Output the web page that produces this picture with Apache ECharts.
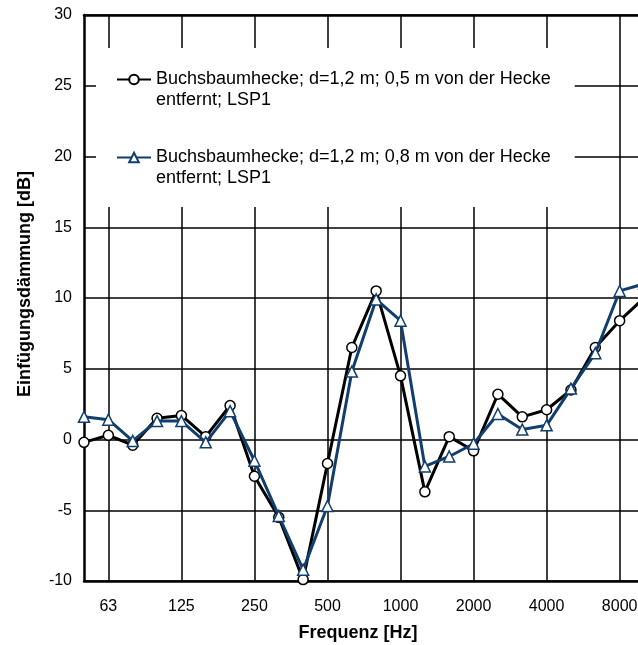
<!DOCTYPE html>
<html>
<head>
<meta charset="utf-8">
<script src="https://cdn.jsdelivr.net/npm/echarts@6/dist/echarts.min.js"></script>
<style>
html,body{margin:0;padding:0;background:#fff;}
#chart{width:638px;height:645px;}
</style>
</head>
<body>
<div id="chart"></div>
<script>
// Third-octave band centre frequencies [Hz]
const frequencies = ['50','63','80','100','125','160','200','250','315','400','500','630','800','1000','1250','1600','2000','2500','3150','4000','5000','6300','8000','10000'];
// Octave labels shown on the x axis
const tickLabels = ['63','125','250','500','1000','2000','4000','8000'];
// Insertion loss [dB]
const series05m = [-0.2, 0.3, -0.4, 1.5, 1.7, 0.2, 2.4, -2.6, -5.5, -9.9, -1.7, 6.5, 10.5, 4.5, -3.7, 0.2, -0.8, 3.2, 1.6, 2.1, 3.5, 6.5, 8.4, 10.0];
const series08m = [1.6, 1.4, -0.1, 1.3, 1.3, -0.2, 2.0, -1.5, -5.4, -9.2, -4.7, 4.8, 9.9, 8.4, -1.9, -1.2, -0.3, 1.8, 0.7, 1.0, 3.6, 6.1, 10.5, 11.0];
const name05m = 'Buchsbaumhecke; d=1,2 m; 0,5 m von der Hecke\nentfernt; LSP1';
const name08m = 'Buchsbaumhecke; d=1,2 m; 0,8 m von der Hecke\nentfernt; LSP1';
const yTicks = {min: -10, max: 30, interval: 5};

const FONT = '"Liberation Sans", Arial, sans-serif';
const BLUE = '#123e6e';
const showIdx = (i) => tickLabels.indexOf(frequencies[i]) >= 0;

const chart = echarts.init(document.getElementById('chart'), null, {renderer: 'canvas'});
chart.setOption({
  animation: false,
  backgroundColor: '#fff',
  textStyle: {fontFamily: FONT},
  grid: {left: 84, top: 15, width: 560, bottom: 64, containLabel: false, outerBoundsMode: 'none'},
  legend: {
    orient: 'vertical',
    left: 96, top: 48,
    padding: [0, 24, 18, 20],
    backgroundColor: '#fff',
    itemWidth: 34, itemHeight: 12,
    itemGap: 15,
    formatter: (n) => '\n' + n,
    textStyle: {fontFamily: FONT, fontSize: 18, color: '#000', lineHeight: 21},
    data: [name05m, name08m]
  },
  xAxis: [{
    type: 'category',
    data: frequencies,
    boundaryGap: false,
    axisLine: {onZero: false, lineStyle: {color: '#000', width: 2.5}},
    axisTick: {show: false},
    axisLabel: {interval: (i) => showIdx(i), fontSize: 16, color: '#000', margin: 18, fontFamily: FONT},
    splitLine: {show: true, interval: (i) => showIdx(i), lineStyle: {color: '#000', width: 1.5}},
    name: 'Frequenz [Hz]',
    nameLocation: 'middle',
    nameGap: 43,
    nameTextStyle: {fontSize: 18, fontWeight: 'bold', color: '#000', fontFamily: FONT, padding: [0, 12, 0, 0]}
  }, {
    type: 'category',
    data: frequencies,
    position: 'top',
    boundaryGap: false,
    axisLine: {show: true, onZero: false, lineStyle: {color: '#000', width: 2.5}},
    axisTick: {show: false},
    axisLabel: {show: false},
    splitLine: {show: false}
  }],
  yAxis: {
    type: 'value',
    min: yTicks.min, max: yTicks.max, interval: yTicks.interval,
    axisLine: {show: true, lineStyle: {color: '#000', width: 2.5}},
    axisTick: {show: false},
    axisLabel: {fontSize: 16, color: '#000', margin: 12, fontFamily: FONT},
    splitLine: {show: true, lineStyle: {color: '#000', width: 1.5}},
    name: 'Einfügungsdämmung [dB]',
    nameLocation: 'middle',
    nameRotate: 90,
    nameGap: 50,
    nameTextStyle: {fontSize: 18, fontWeight: 'bold', color: '#000', fontFamily: FONT, padding: [0, 0, 0, 28]}
  },
  series: [{
    name: name05m,
    type: 'line',
    data: series05m,
    symbol: 'circle',
    symbolSize: 10,
    lineStyle: {color: '#000', width: 3},
    itemStyle: {color: '#fff', borderColor: '#000', borderWidth: 1.5},
    z: 3
  }, {
    name: name08m,
    type: 'line',
    data: series08m,
    symbol: 'triangle',
    symbolSize: 11,
    lineStyle: {color: BLUE, width: 3},
    itemStyle: {color: '#fff', borderColor: BLUE, borderWidth: 1.5},
    z: 4
  }]
});
</script>
</body>
</html>
